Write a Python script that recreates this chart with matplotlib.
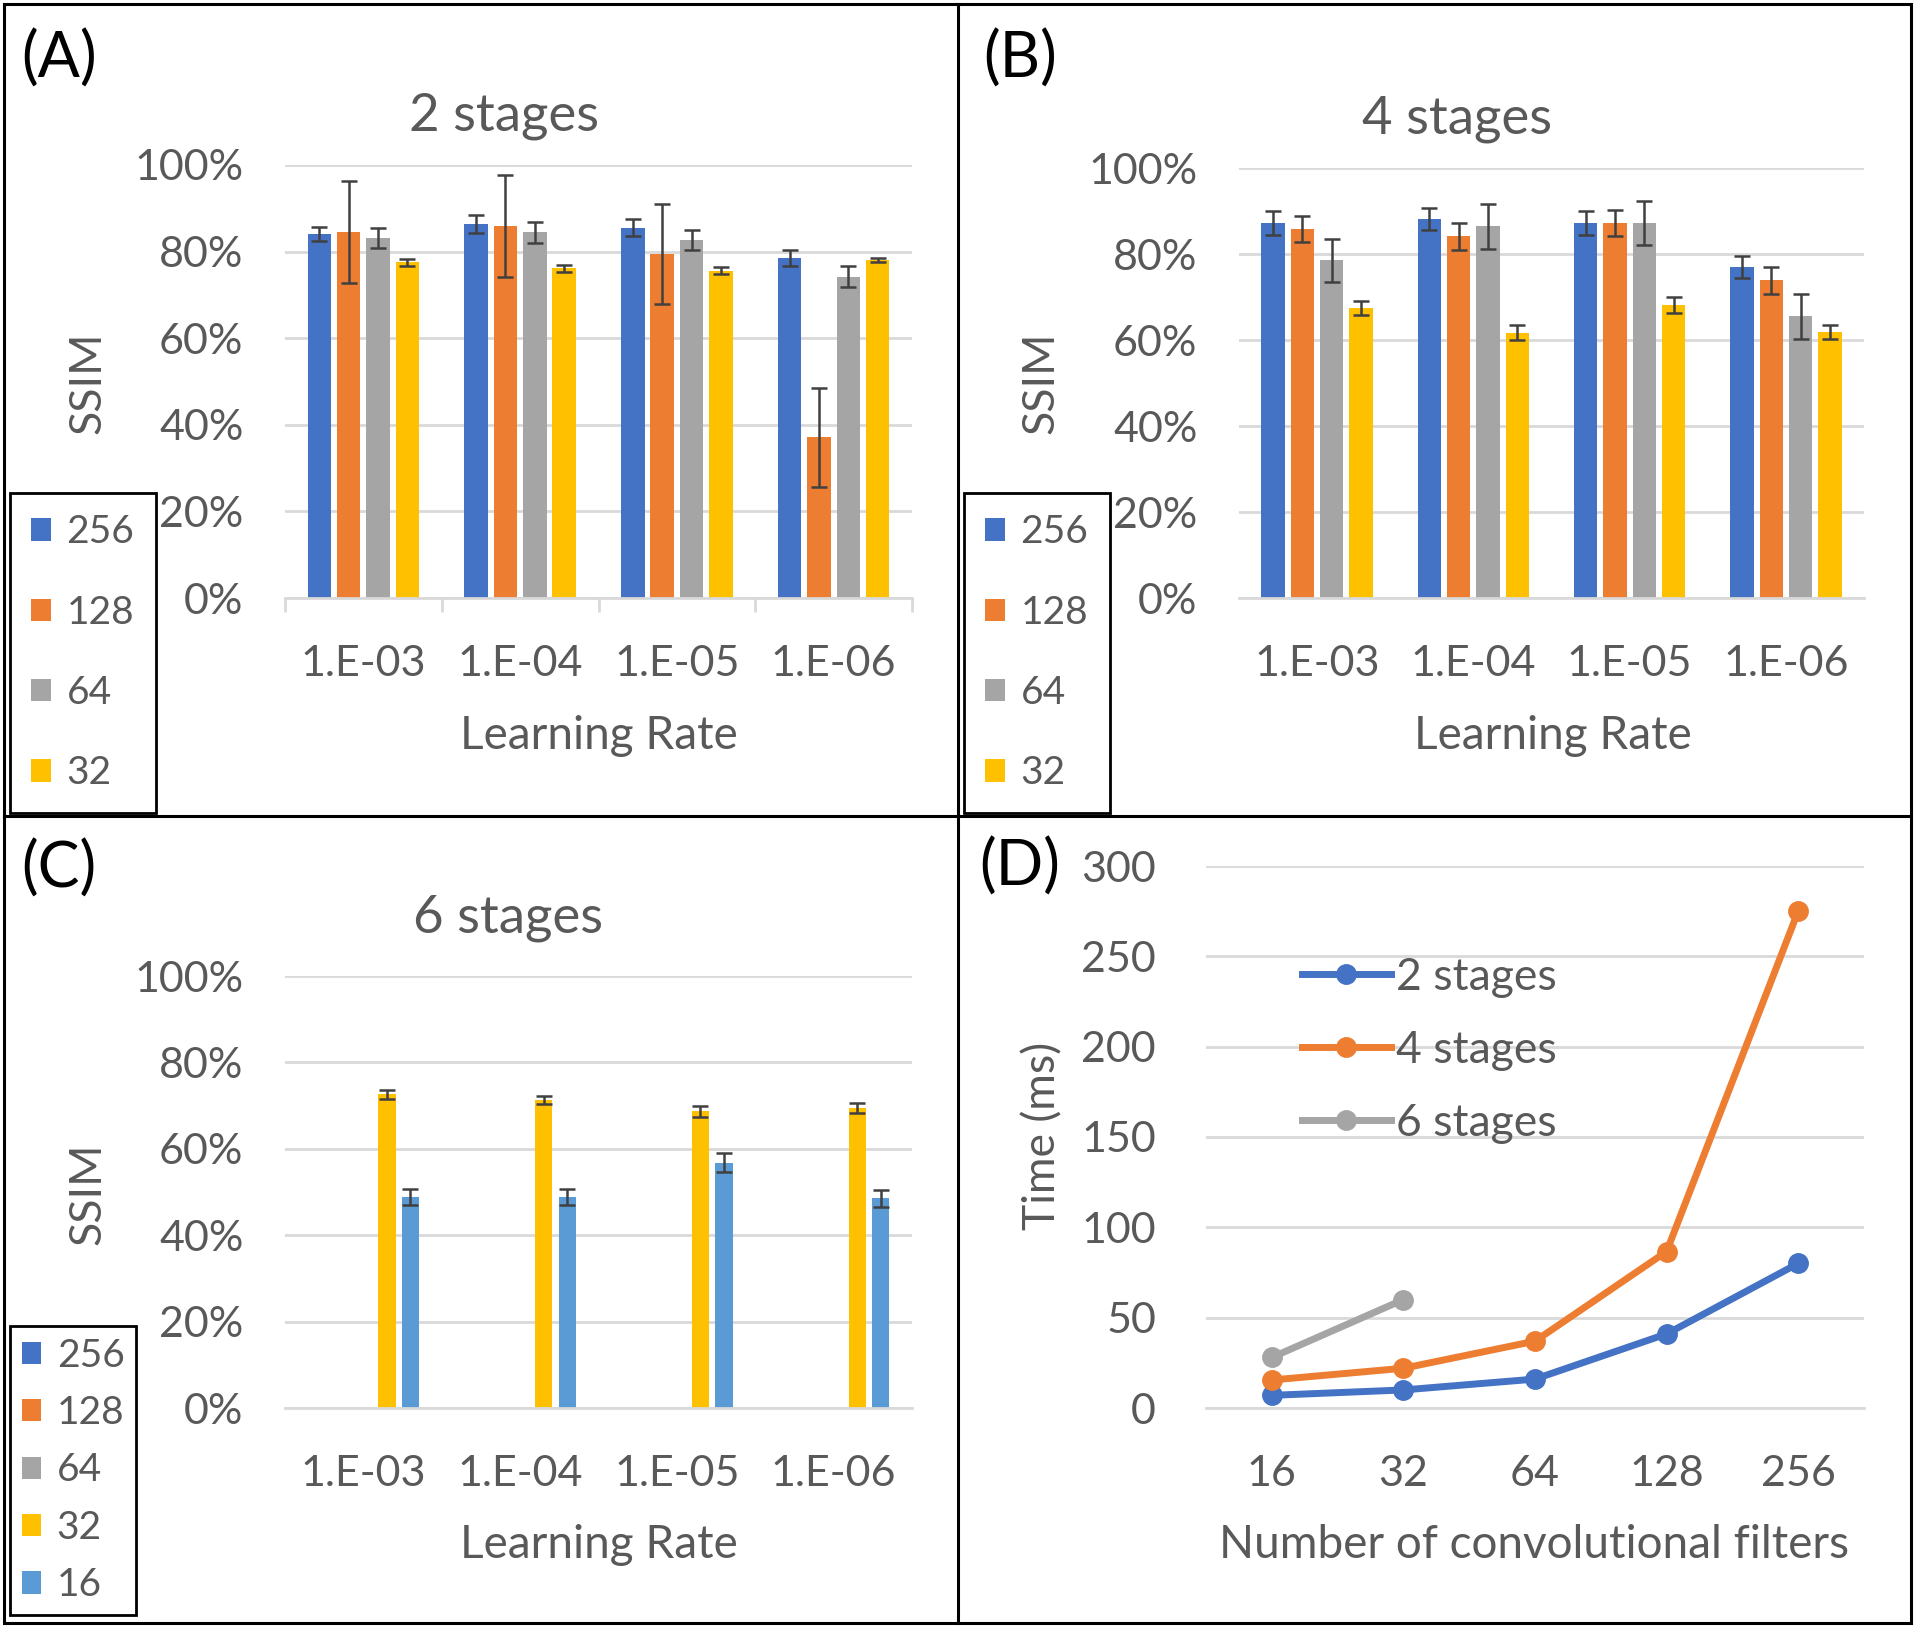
import matplotlib
matplotlib.use("Agg")
import matplotlib.pyplot as plt
import numpy as np
from matplotlib.patches import Rectangle

plt.rcParams['font.family'] = ['Lato', 'DejaVu Sans']

W, H = 1920, 1632
txt_gray = '#595959'
grid_gray = '#D9D9D9'
err_col = '#404040'

learning_rates = ['1.E-03', '1.E-04', '1.E-05', '1.E-06']
filters = ['256', '128', '64', '32']
filters_c = ['256', '128', '64', '32', '16']
colors = {'256': '#4472C4', '128': '#ED7D31', '64': '#A5A5A5', '32': '#FFC000', '16': '#5B9BD5'}

# (A) 2 stages: mean and error per filter count
ssim_2 = {
    '256': [84.1, 86.4, 85.5, 78.5],
    '128': [84.5, 86.0, 79.5, 37.1],
    '64':  [83.1, 84.5, 82.6, 74.2],
    '32':  [77.5, 76.2, 75.6, 78.1],
}
err_2 = {
    '256': [1.6, 2.0, 2.0, 1.8],
    '128': [11.8, 11.8, 11.6, 11.4],
    '64':  [2.3, 2.4, 2.3, 2.4],
    '32':  [0.8, 0.8, 0.8, 0.5],
}

# (B) 4 stages
ssim_4 = {
    '256': [87.2, 88.2, 87.2, 77.0],
    '128': [85.8, 84.1, 87.2, 73.9],
    '64':  [78.5, 86.4, 87.2, 65.5],
    '32':  [67.4, 61.7, 68.2, 61.9],
}
err_4 = {
    '256': [2.7, 2.6, 2.7, 2.6],
    '128': [3.1, 3.1, 3.0, 3.1],
    '64':  [5.1, 5.2, 5.1, 5.2],
    '32':  [1.7, 1.7, 1.9, 1.6],
}

# (C) 6 stages (only 32 and 16 filters have results)
ssim_6 = {
    '32': [72.6, 71.3, 68.7, 69.5],
    '16': [48.9, 48.9, 56.8, 48.5],
}
err_6 = {
    '32': [1.0, 1.0, 1.3, 1.2],
    '16': [1.9, 1.9, 2.2, 2.0],
}

# (D) inference time
n_filters = ['16', '32', '64', '128', '256']
time_2 = [7, 10, 16, 41, 80]
time_4 = [15.5, 22, 37, 86.6, 275]
time_6 = [28, 60]

fig = plt.figure(figsize=(W / 100, H / 100), dpi=100)


def fx(px):
    return px / W


def fy(py):
    return 1 - py / H


def axes_px(x0, x1, y_top, y_bot):
    return fig.add_axes([fx(x0), fy(y_bot), fx(x1) - fx(x0), fy(y_top) - fy(y_bot)])


def style_ax(ax):
    for s in ['top', 'right', 'left']:
        ax.spines[s].set_visible(False)
    ax.spines['bottom'].set_color(grid_gray)
    ax.spines['bottom'].set_linewidth(2)
    ax.grid(axis='y', color=grid_gray, linewidth=2)
    ax.set_axisbelow(True)
    ax.tick_params(axis='both', length=0, labelsize=31, labelcolor=txt_gray)
    ax.tick_params(axis='y', pad=30)
    ax.tick_params(axis='x', pad=34)


def bar_panel(ax, series, errs, names, pitch, width):
    x = np.arange(len(learning_rates))
    n = len(names)
    handles = []
    for i, name in enumerate(names):
        off = (i - (n - 1) / 2) * pitch
        if name in series:
            b = ax.bar(x + off, series[name], width, color=colors[name],
                       yerr=errs[name], capsize=6,
                       error_kw=dict(ecolor=err_col, elinewidth=1.8, capthick=1.8),
                       label=name)
        else:
            b = ax.bar(x + off, [0] * len(x), width, color=colors[name], label=name)
        handles.append(b)
    ax.set_xlim(-0.5, len(x) - 0.5)
    ax.set_ylim(0, 100)
    ax.set_yticks(range(0, 101, 20))
    ax.set_yticklabels([f'{v}%' for v in range(0, 101, 20)])
    ax.set_xticks(x)
    ax.set_xticklabels(learning_rates)
    style_ax(ax)
    return handles


def bar_legend(ax, handles, x0, y0, fs, spacing, bpad):
    leg = fig.legend(handles=handles, loc='upper left',
                     bbox_to_anchor=(fx(x0), fy(y0)), bbox_transform=fig.transFigure,
                     fontsize=fs, frameon=True, fancybox=False, framealpha=1,
                     edgecolor='black', borderpad=bpad, labelspacing=spacing,
                     handlelength=0.5, handleheight=0.5, handletextpad=0.4,
                     borderaxespad=0)
    leg.get_frame().set_linewidth(2)
    for t in leg.get_texts():
        t.set_color(txt_gray)
    leg.set_zorder(10)
    return leg


# (A)
axA = axes_px(285, 912, 165, 598)
hA = bar_panel(axA, ssim_2, err_2, filters, 0.1875, 0.15)
axA.set_xticks(np.arange(-0.5, 4.0, 1.0), minor=True)
axA.tick_params(axis='x', which='minor', length=10, width=2, color=grid_gray, direction='out')
bar_legend(axA, hA, 10, 493, 28, 1.14, 0.55)

# (B)
axB = axes_px(1239, 1864, 168, 598)
hB = bar_panel(axB, ssim_4, err_4, filters, 0.1875, 0.15)
bar_legend(axB, hB, 964, 493, 28, 1.14, 0.55)

# (C)
axC = axes_px(285, 912, 976, 1408)
hC = bar_panel(axC, ssim_6, err_6, filters_c, 0.15, 0.11)
bar_legend(axC, hC, 10, 1326, 28, 0.55, 0.3)

# (D)
axD = axes_px(1206, 1864, 866, 1408)
xd = np.arange(len(n_filters))
axD.plot(xd, time_2, color='#4472C4', lw=5, marker='o', ms=14, label='2 stages')
axD.plot(xd, time_4, color='#ED7D31', lw=5, marker='o', ms=14, label='4 stages')
axD.plot(xd[:len(time_6)], time_6, color='#A5A5A5', lw=5, marker='o', ms=14, label='6 stages')
axD.set_xlim(-0.5, len(xd) - 0.5)
axD.set_ylim(0, 300)
axD.set_yticks(range(0, 301, 50))
axD.set_xticks(xd)
axD.set_xticklabels(n_filters)
style_ax(axD)
axD.tick_params(axis='y', pad=36)
axD.tick_params(axis='x', pad=34)
legD = axD.legend(loc='upper left', bbox_to_anchor=(fx(1302), fy(957)),
                  bbox_transform=fig.transFigure, frameon=False, fontsize=32,
                  handlelength=2.0, handletextpad=0.12, labelspacing=0.72,
                  borderpad=0, borderaxespad=0)
for t in legD.get_texts():
    t.set_color(txt_gray)

# titles, axis labels
for (x, y, s) in [(504, 116, '2 stages'), (1457, 119, '4 stages'), (508, 918, '6 stages')]:
    fig.text(fx(x), fy(y), s, ha='center', va='center', fontsize=38, color=txt_gray)
for (x, y, s) in [(599, 736, 'Learning Rate'), (1553, 736, 'Learning Rate'),
                  (599, 1545, 'Learning Rate'), (1534, 1545, 'Number of convolutional filters')]:
    fig.text(fx(x), fy(y), s, ha='center', va='center', fontsize=33, color=txt_gray)
for (x, y, s) in [(88, 383, 'SSIM'), (1041, 383, 'SSIM'), (88, 1194, 'SSIM'), (1043, 1136, 'Time (ms)')]:
    fig.text(fx(x), fy(y), s, ha='center', va='center', fontsize=32, color=txt_gray, rotation=90)
for (x, y, s) in [(59, 59, '(A)'), (1020, 59, '(B)'), (59, 869, '(C)'), (1020, 867, '(D)')]:
    fig.text(fx(x), fy(y), s, ha='center', va='center', fontsize=45, color='black')

# panel frames
lw = 2.2
fig.add_artist(Rectangle((fx(4), fy(1623)), fx(1911) - fx(4), fy(4) - fy(1623),
                         transform=fig.transFigure, fill=False, edgecolor='black', lw=lw))
fig.add_artist(plt.Line2D([fx(958), fx(958)], [fy(4), fy(1623)], transform=fig.transFigure,
                          color='black', lw=lw))
fig.add_artist(plt.Line2D([fx(4), fx(1911)], [fy(816), fy(816)], transform=fig.transFigure,
                          color='black', lw=lw))

fig.savefig('out.png', dpi=100, facecolor='white')
